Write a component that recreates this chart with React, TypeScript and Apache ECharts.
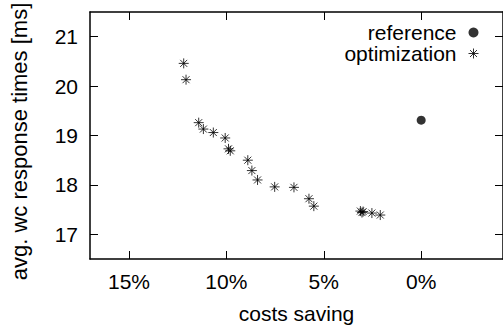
import React, { useEffect, useRef } from "react";
import * as echarts from "echarts";

const xTicks = [0, 5, 10, 15];
const yTicks = [17, 18, 19, 20, 21];

const referenceData: number[][] = [[0, 19.31]];

const optimizationData: number[][] = [
  [12.19, 20.46],
  [12.07, 20.13],
  [11.42, 19.26],
  [11.18, 19.13],
  [10.67, 19.06],
  [10.06, 18.95],
  [9.89, 18.73],
  [9.8, 18.69],
  [8.9, 18.5],
  [8.69, 18.29],
  [8.4, 18.1],
  [7.52, 17.96],
  [6.53, 17.95],
  [5.76, 17.72],
  [5.51, 17.57],
  [3.12, 17.47],
  [3.04, 17.44],
  [2.98, 17.46],
  [2.53, 17.43],
  [2.1, 17.39],
];

const FONT = "'Liberation Sans', Arial, Helvetica, sans-serif";
const STAR =
  "path://M0 5L10 5M5 0L5 10M1.5 1.5L8.5 8.5M1.5 8.5L8.5 1.5";

export default function App() {
  const ref = useRef<HTMLDivElement>(null);

  useEffect(() => {
    document.body.style.margin = "0";
    if (!ref.current) return;
    const chart = echarts.init(ref.current, null, { renderer: "svg" });
    const axisLine = { show: true, onZero: false, lineStyle: { color: "#000", width: 1.5 } };
    const tickBase = { show: true, inside: true, length: 8, lineStyle: { color: "#000", width: 1 } };
    const labelStyle = { color: "#000", fontSize: 21, fontFamily: FONT };
    chart.setOption({
      animation: false,
      backgroundColor: "#fff",
      textStyle: { fontFamily: FONT },
      grid: { left: 90, right: -1, top: 12, bottom: 62, containLabel: false },
      legend: {
        orient: "vertical",
        align: "right",
        right: 24,
        top: 22,
        padding: 0,
        itemGap: 0,
        itemWidth: 10,
        itemHeight: 10,
        textStyle: { ...labelStyle, lineHeight: 21, padding: [0, 7, 0, 0] },
        data: [
          { name: "reference", icon: "circle" },
          { name: "optimization", icon: STAR, itemStyle: { color: "transparent", borderColor: "#000", borderWidth: 1 } },
        ],
      },
      xAxis: [
        {
          type: "value",
          inverse: true,
          min: -4.2,
          max: 17,
          position: "bottom",
          axisLine,
          axisTick: { ...tickBase, customValues: xTicks },
          axisLabel: { ...labelStyle, margin: 12, customValues: xTicks, formatter: (v: number) => v + "%" },
          splitLine: { show: false },
          name: "costs saving",
          nameLocation: "middle",
          nameGap: 44,
          nameTextStyle: labelStyle,
        },
        {
          type: "value",
          inverse: true,
          min: -4.2,
          max: 17,
          position: "top",
          axisLine,
          axisTick: { ...tickBase, customValues: xTicks },
          axisLabel: { show: false },
          splitLine: { show: false },
        },
      ],
      yAxis: [
        {
          type: "value",
          min: 16.5,
          max: 21.5,
          position: "left",
          axisLine,
          axisTick: { ...tickBase, customValues: yTicks },
          axisLabel: { ...labelStyle, margin: 12, customValues: yTicks },
          splitLine: { show: false },
          name: "avg. wc response times [ms]",
          nameLocation: "middle",
          nameGap: 60,
          nameTextStyle: { ...labelStyle, fontSize: 22, padding: [0, 12, 0, 0] },
        },
        {
          type: "value",
          min: 16.5,
          max: 21.5,
          position: "right",
          axisLine,
          axisTick: { ...tickBase, customValues: yTicks },
          axisLabel: { show: false },
          splitLine: { show: false },
        },
      ],
      series: [
        {
          name: "reference",
          type: "scatter",
          data: referenceData,
          symbol: "circle",
          symbolSize: 9,
          itemStyle: { color: "#000" },
        },
        {
          name: "optimization",
          type: "scatter",
          data: optimizationData,
          symbol: STAR,
          symbolSize: 10,
          itemStyle: { color: "transparent", borderColor: "#000", borderWidth: 1 },
        },
      ],
    });
    return () => chart.dispose();
  }, []);

  return <div ref={ref} style={{ position: "absolute", left: 0, top: 0, width: 503, height: 329 }} />;
}
